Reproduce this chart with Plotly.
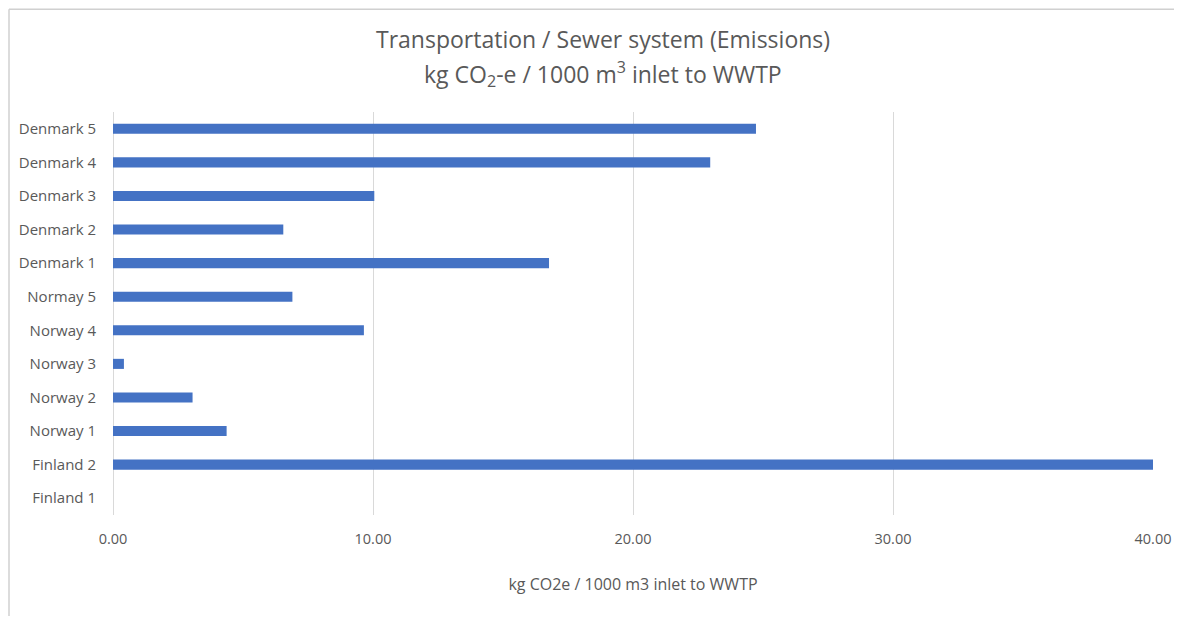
"""Transportation / Sewer system emissions, horizontal bar chart."""

import plotly.graph_objects as go

# categories bottom -> top (plotly draws first category at the bottom)
plants = [
    "Finland 1", "Finland 2",
    "Norway 1", "Norway 2", "Norway 3", "Norway 4", "Normay 5",
    "Denmark 1", "Denmark 2", "Denmark 3", "Denmark 4", "Denmark 5",
]
emissions = [0.0, 40.0, 4.37, 3.06, 0.42, 9.65, 6.9, 16.77, 6.55, 10.05, 22.97, 24.73]

x_ticks = [0, 10, 20, 30, 40]
x_tick_text = ["0.00", "10.00", "20.00", "30.00", "40.00"]

TEXT = "#595959"
GRID = "#d9d9d9"
FONT = "Open Sans"

fig = go.Figure()
fig.add_trace(
    go.Bar(
        x=emissions,
        y=plants,
        orientation="h",
        marker=dict(color="#4472C4", line=dict(width=0)),
        width=0.3,
        cliponaxis=True,
    )
)

# page body has an 8px margin, so the figure is a bit smaller than the window
fig.update_layout(
    width=1166,
    height=608,
    margin=dict(l=105, r=21, t=104, b=101),
    paper_bgcolor="white",
    plot_bgcolor="white",
    showlegend=False,
    font=dict(family=FONT, size=12, color=TEXT),
)

# title as two annotations so the line spacing matches
fig.add_annotation(
    text="Transportation / Sewer system (Emissions)",
    xref="paper", yref="paper", x=0.471, y=1.181,
    xanchor="center", yanchor="middle", showarrow=False,
    font=dict(family=FONT, size=23, color=TEXT),
)
fig.add_annotation(
    text="kg CO<sub>2</sub>-e / 1000 m<sup>3</sup> inlet to WWTP",
    xref="paper", yref="paper", x=0.471, y=1.094,
    xanchor="center", yanchor="middle", showarrow=False,
    font=dict(family=FONT, size=23, color=TEXT),
)

# chart frame: only the left and top edges are visible in the window
frame = dict(color="#d0d0d0", width=1.5)
fig.add_shape(type="line", xref="paper", yref="paper",
              x0=-0.1, x1=-0.1, y0=-0.4, y1=1.255, line=frame, layer="below")
fig.add_shape(type="line", xref="paper", yref="paper",
              x0=-0.1, x1=1.2, y0=1.255, y1=1.255, line=frame, layer="below")

fig.update_xaxes(
    range=[0, 40],
    automargin=False,
    tickvals=x_ticks,
    ticktext=x_tick_text,
    showgrid=True,
    gridcolor=GRID,
    gridwidth=1,
    zeroline=True,
    zerolinecolor=GRID,
    zerolinewidth=1,
    showline=False,
    ticks="",
    ticklabelstandoff=13,
    tickfont=dict(size=14.5, color=TEXT),
    title=dict(text="kg CO2e / 1000 m3 inlet to WWTP", standoff=32,
               font=dict(size=16, color=TEXT)),
)
fig.update_yaxes(
    automargin=False,
    showgrid=False,
    showline=False,
    ticks="",
    ticklabelstandoff=16,
    tickfont=dict(size=15, color=TEXT),
)

fig.write_html("out.html")
